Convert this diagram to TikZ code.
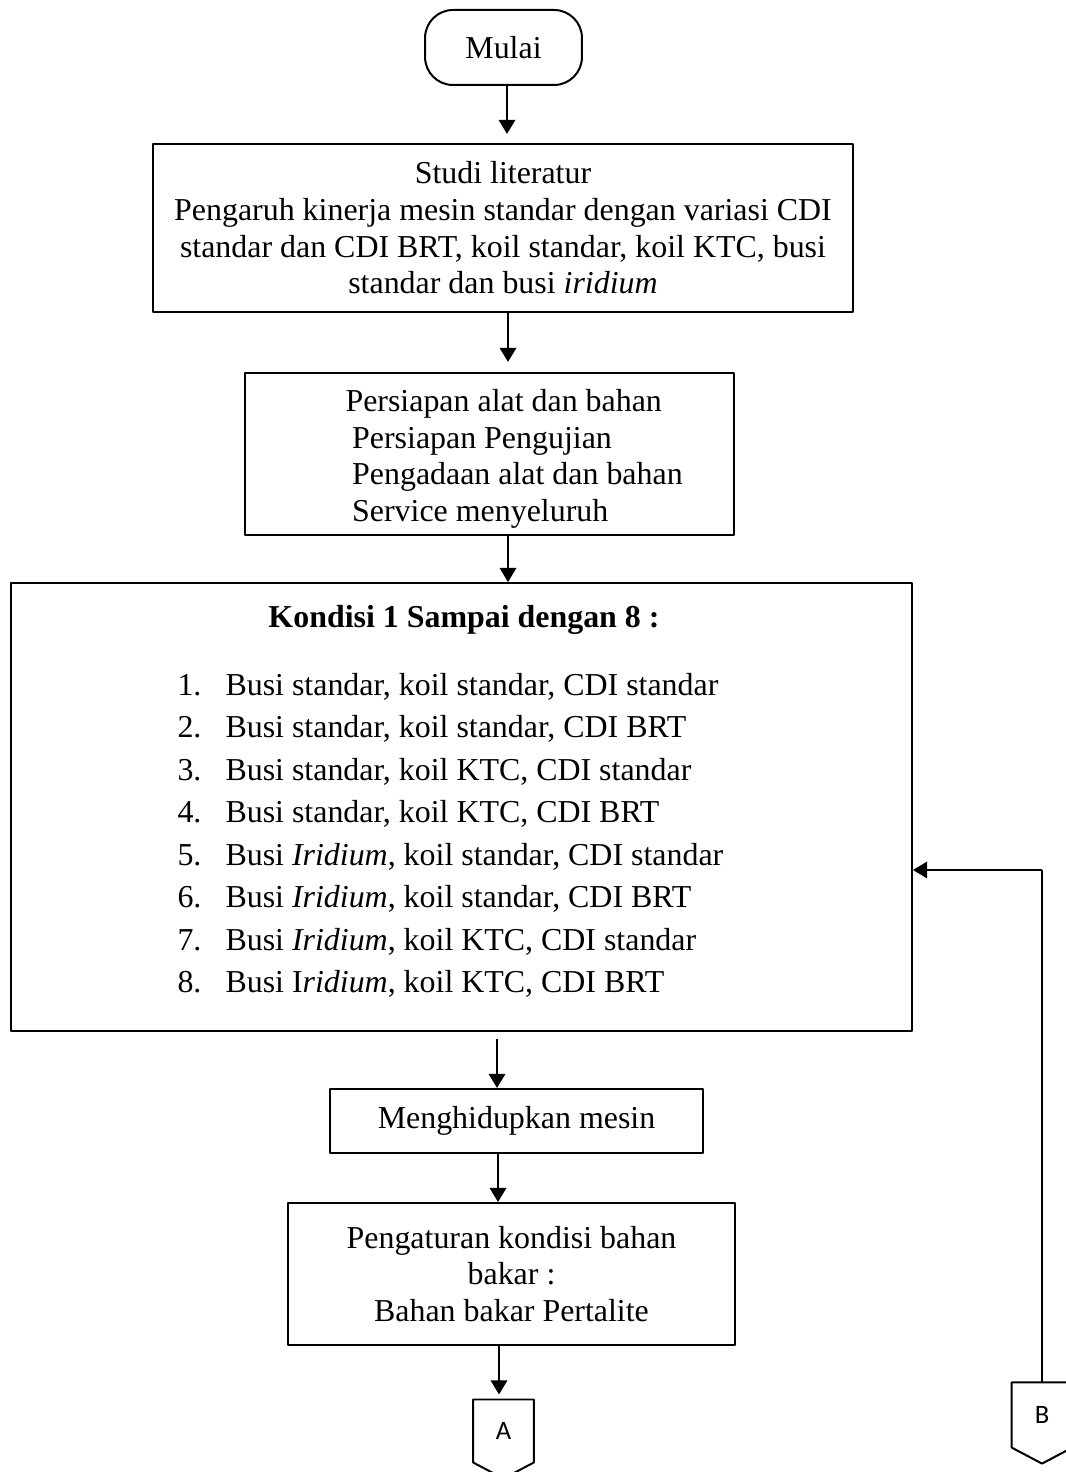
\documentclass[tikz,border=0pt]{standalone}
\usepackage{fontspec}
\setmainfont{Liberation Serif}
\newfontfamily\connfont{Carlito}
\usetikzlibrary{arrows.meta,calc}

\tikzset{
  box/.style={draw, line width=0.75pt, inner sep=0pt},
  txt/.style={align=center, inner sep=0pt, font=\fontsize{12}{13.8}\selectfont},
  item/.style={inner sep=0pt, anchor=base west, font=\fontsize{12}{13.8}\selectfont},
  conn/.style={inner sep=0pt, minimum width=22.4pt, font=\connfont\fontsize{10}{12}\selectfont},
  arr/.style={line width=0.75pt, -{Triangle[length=5.3pt,width=6.2pt]}},
  thinline/.style={line width=0.4pt},
}

\begin{document}
\begin{tikzpicture}[x=0.376pt, y=0.376pt, line join=round]
  \useasboundingbox (0,0) rectangle (1065,-1472);

  \node[box, txt, rounded corners=10.5pt, minimum width=59pt, minimum height=28.2pt]
    (mulai) at (503.5,-47.5) {Mulai};

  \node[box, txt, minimum width=263.2pt, minimum height=63.2pt] (studi) at (503,-228)
    {Studi literatur\\
     Pengaruh kinerja mesin standar dengan variasi CDI\\
     standar dan CDI BRT, koil standar, koil KTC, busi\\
     standar dan busi \textit{iridium}};

  \node[box, minimum width=183.9pt, minimum height=60.9pt] (persiapan) at (489.5,-454) {};
  \node[txt, align=left, anchor=west] (persiapanTxt) at (345,-459)
    {Persiapan alat dan bahan\\
     \hspace*{2.5pt}Persiapan Pengujian\\
     \hspace*{2.5pt}Pengadaan alat dan bahan\\
     \hspace*{2.5pt}Service menyeluruh};

  \node[box, minimum width=338.8pt, minimum height=168.4pt] (kondisi) at (461.5,-807) {};
  \node[txt, anchor=base] (kondisiJudul) at (464,-628) {\textbf{Kondisi 1 Sampai dengan 8 :}};
  \foreach \i/\t in {1/{Busi standar, koil standar, CDI standar},
                     2/{Busi standar, koil standar, CDI BRT},
                     3/{Busi standar, koil KTC, CDI standar},
                     4/{Busi standar, koil KTC, CDI BRT},
                     5/{Busi \textit{Iridium}, koil standar, CDI standar},
                     6/{Busi \textit{Iridium}, koil standar, CDI BRT},
                     7/{Busi \textit{Iridium}, koil KTC, CDI standar},
                     8/{Busi I\textit{ridium}, koil KTC, CDI BRT}} {
    \node[item] (num\i) at (177,{-695-42.5*(\i-1)}) {\i.};
    \node[item] (item\i) at (225,{-695-42.5*(\i-1)}) {\t};
  }

  \node[box, txt, minimum width=140.2pt, minimum height=24.1pt] (mesin) at (516.5,-1121)
    {Menghidupkan mesin};

  \node[box, txt, minimum width=168.1pt, minimum height=53.4pt] (pengaturan) at (511.5,-1274)
    {Pengaturan kondisi bahan\\ bakar :\\ Bahan bakar Pertalite};

  \node[conn, minimum height=23.3pt] (conA) at (503.5,-1431) {A};
  \draw[box] (conA.north west) -- (conA.north east) -- (conA.south east)
    -- ($(conA.south)+(0,-16)$) -- (conA.south west) -- cycle;

  \node[conn, minimum height=24.1pt] (conB) at (1042,-1415) {B};
  \draw[box] (conB.north west) -- (conB.north east) -- (conB.south east)
    -- ($(conB.south)+(0,-16)$) -- (conB.south west) -- cycle;

  \draw[arr, shorten >=3.4pt] (mulai.south -| 507,0) -- (studi.north -| 507,0);
  \draw[arr, shorten >=3.8pt] (studi.south -| 508,0) -- (persiapan.north -| 508,0);
  \draw[arr] (persiapan.south -| 508,0) -- (kondisi.north -| 508,0);
  \draw[arr, shorten <=2.6pt] (kondisi.south -| 497,0) -- (mesin.north -| 497,0);
  \draw[arr] (mesin.south -| 498,0) -- (pengaturan.north -| 498,0);
  \draw[arr, shorten >=1.9pt] (pengaturan.south -| 499,0) -- (conA.north -| 499,0);

  \draw[thinline] (conB.north) -- (conB.north |- 0,-870) coordinate (balik);
  \draw[arr] (balik) -- (kondisi.east |- balik);
\end{tikzpicture}
\end{document}
